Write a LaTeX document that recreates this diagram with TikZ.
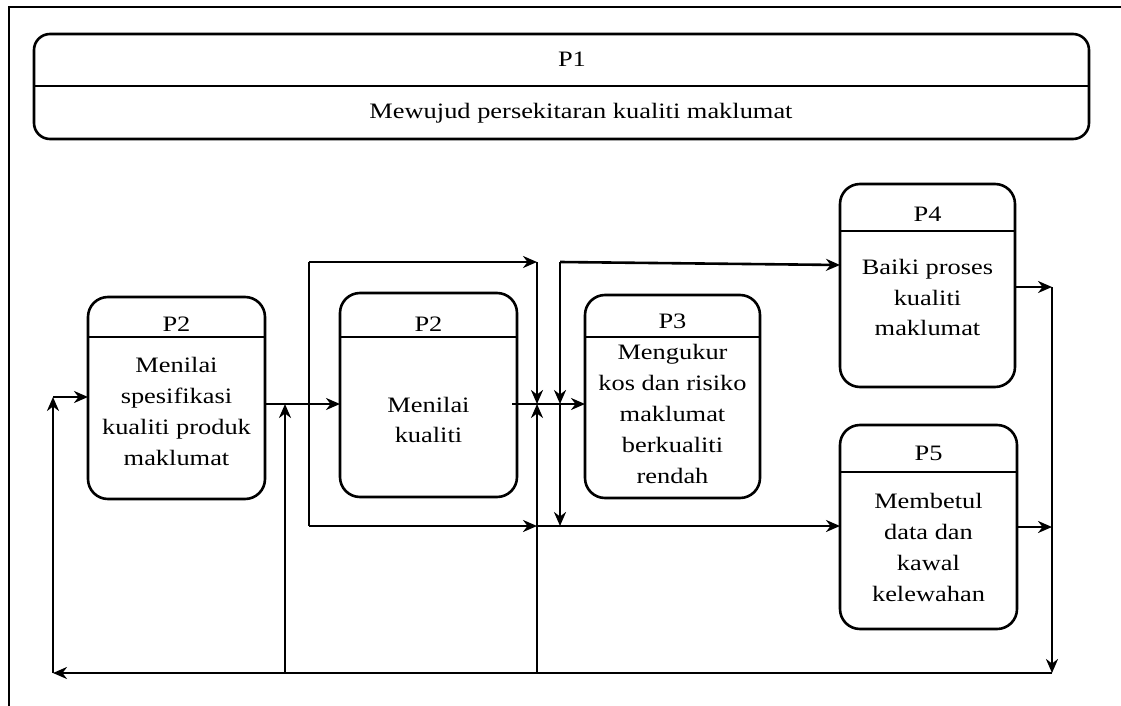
\documentclass[tikz,border=0pt]{standalone}
\usepackage{fontspec}
\setmainfont{Liberation Serif}[FakeStretch=1.2]
\usetikzlibrary{arrows.meta}
\begin{document}
\begin{tikzpicture}[x=1pt,y=-1pt,
  box/.style={draw, line width=2.6pt, rounded corners=20pt, inner sep=0pt, outer sep=0pt},
  divider/.style={line width=2.6pt},
  txt/.style={font=\fontsize{22}{30.8}\selectfont, align=center, inner sep=0pt, anchor=center},
  head/.style={font=\fontsize{22}{30.8}\selectfont, inner sep=0pt, anchor=base},
  flow/.style={line width=2.6pt, -{Stealth[length=14pt,width=12pt,inset=4.5pt]}},
  wire/.style={line width=2.6pt}]
\useasboundingbox (0,0) rectangle (1121,706);

% outer frame (top and left edges)
\draw[wire] (9,706) -- (9,7) -- (1121,7);

% P1 banner
\node[box, rounded corners=16pt, minimum width=1055pt, minimum height=105pt] (p1) at (561.5,86.5) {};
\draw[divider] (p1.west |- 0,86) -- (p1.east |- 0,86);
\node[head] (p1h) at (572,67) {P1};
\node[head] (p1t) at (581,119) {Mewujud persekitaran kualiti maklumat};

% process boxes
\node[box, minimum width=177pt, minimum height=202pt] (p2a) at (176.5,398) {};
\draw[divider] (p2a.west |- 0,337) -- (p2a.east |- 0,337);
\node[head] (p2ah) at (176.5,331) {P2};
\node[txt] (p2at) at (176.5,411.5) {Menilai\\spesifikasi\\kualiti produk\\maklumat};

\node[box, minimum width=177pt, minimum height=204pt] (p2b) at (428.5,395) {};
\draw[divider] (p2b.west |- 0,337) -- (p2b.east |- 0,337);
\node[head] (p2bh) at (428.5,331) {P2};
\node[txt] (p2bt) at (428.5,420) {Menilai\\kualiti};

\node[box, minimum width=175pt, minimum height=203pt] (p3) at (672.5,396.5) {};
\draw[divider] (p3.west |- 0,337) -- (p3.east |- 0,337);
\node[head] (p3h) at (672.5,328) {P3};
\node[txt] (p3t) at (672.5,414) {Mengukur\\kos dan risiko\\maklumat\\berkualiti\\rendah};

\node[box, minimum width=175pt, minimum height=203pt] (p4) at (927.5,285.5) {};
\draw[divider] (p4.west |- 0,231) -- (p4.east |- 0,231);
\node[head] (p4h) at (927.5,221) {P4};
\node[txt] (p4t) at (927.5,297.5) {Baiki proses\\kualiti\\maklumat};

\node[box, minimum width=177pt, minimum height=204pt] (p5) at (928.5,527) {};
\draw[divider] (p5.west |- 0,472) -- (p5.east |- 0,472);
\node[head] (p5h) at (928.5,460) {P5};
\node[txt] (p5t) at (928.5,547.5) {Membetul\\data dan\\kawal\\kelewahan};

% junction points of the flow lines
\coordinate (cLin) at (53,397);
\coordinate (cLb)  at (53,673);
\coordinate (cA)   at (285,404);
\coordinate (cAb)  at (285,673);
\coordinate (cBt)  at (309,262);
\coordinate (cBb)  at (309,526);
\coordinate (cCt)  at (537,262);
\coordinate (cCm)  at (537,404);
\coordinate (cCb)  at (537,526);
\coordinate (cCf)  at (537,673);
\coordinate (cDt)  at (560,262);
\coordinate (cDm)  at (560,404);
\coordinate (cDb)  at (560,526);
\coordinate (cP4)  at (560,265);
\coordinate (cR4)  at (1052,287);
\coordinate (cR5)  at (1052,527);
\coordinate (cRb)  at (1052,673);

% feedback loop into P2
\draw[flow] (cRb) -- (cLb);
\draw[flow] (cLb) -- (cLin);
\draw[flow] (cLin) -- (cLin -| p2a.west);

% P2 -> P2 (assessment)
\draw[flow] (p2a.east |- cA) -- (p2b.west |- cA);
\draw[flow] (cAb) -- (cA);

% bypass around the assessment box
\draw[wire] (cBt) -- (cBb);
\draw[flow] (cBt) -- (cCt);
\draw[flow] (cBb) -- (cCb);
\draw[flow] (cCt) -- (cCm);
\draw[flow] (cCf) -- (cCm);

% assessment -> P3
\draw[flow] ([xshift=-5pt]p2b.east |- cCm) -- (p3.west |- cCm);
\draw[flow] (cDt) -- (cDm);
\draw[flow] (cDm) -- (cDb);

% branches to P4 and P5
\draw[flow] (cDt) -- (p4.west |- cP4);
\draw[flow] (cCb) -- (p5.west |- cCb);

% outputs of P4 and P5 back to the loop
\draw[flow] (p4.east |- cR4) -- (cR4);
\draw[flow] (cR4) -- (cRb);
\draw[flow] (p5.east |- cR5) -- (cR5);
\end{tikzpicture}
\end{document}
